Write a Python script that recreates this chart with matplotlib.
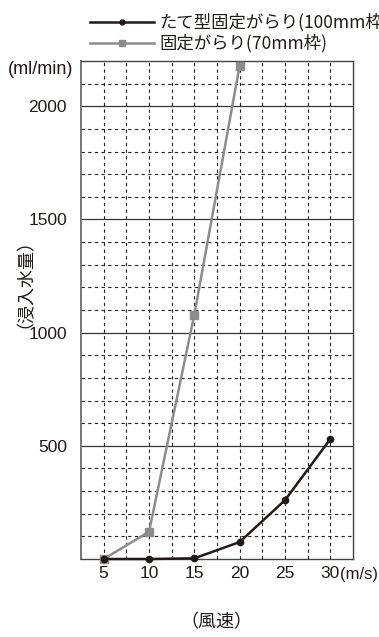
import matplotlib
matplotlib.use("Agg")
import matplotlib.pyplot as plt
from matplotlib.lines import Line2D

plt.rcParams['font.family'] = ['Noto Sans CJK JP', 'DejaVu Sans']

# data
speed = [5, 10, 15, 20, 25, 30]
tate_100 = [0, 0, 3, 75, 260, 530]
kotei_70_x = [5, 10, 15, 20]
kotei_70 = [0, 120, 1080, 2180]
xticks = [5, 10, 15, 20, 25, 30]
yticks = [500, 1000, 1500, 2000]
labels = ['たて型固定がらり(100mm枠)', '固定がらり(70mm枠)']

black = '#231815'
gray = '#8c8c8c'
txt = '#231815'
num_font = ['Liberation Sans Narrow', 'Liberation Sans', 'DejaVu Sans']

fig = plt.figure(figsize=(3.79, 6.37), dpi=100)
ax = fig.add_axes([81/379, 1-559/637, (353-81)/379, (559-61)/637])

ax.set_xlim(2.5, 32.5)
ax.set_ylim(0, 2200)

# grid
for x in [5 + 2.5*i for i in range(11)]:
    ax.axvline(x, color='#222222', lw=0.8, ls=(0, (3, 3)), zorder=1)
for y in range(100, 2200, 100):
    if y % 500 == 0:
        ax.axhline(y, color='#333333', lw=0.9, zorder=1)
    else:
        ax.axhline(y, color='#222222', lw=0.8, ls=(0, (3, 3)), zorder=1)

ax.plot(kotei_70_x, kotei_70, color=gray, lw=1.8, marker='s', ms=5.5, zorder=3, clip_on=False)
ax.plot(speed, tate_100, color=black, lw=1.8, marker='o', ms=4.5, zorder=4, clip_on=False)

for s in ax.spines.values():
    s.set_color('#444444')
    s.set_linewidth(1.0)
ax.spines['left'].set_color('#777777')
ax.spines['left'].set_linewidth(1.4)

ax.set_xticks(xticks)
ax.set_yticks(yticks)
ax.tick_params(length=0, labelsize=12.5, colors=txt, pad=5)
ax.tick_params(axis='y', pad=10)
for lab in ax.get_xticklabels() + ax.get_yticklabels():
    lab.set_family(num_font)

fig.text(73/379, 1-70/637, '(ml/min)', ha='right', va='center', fontsize=13,
         color=txt, family=num_font)
fig.text(340/379, 1-575/637, '(m/s)', ha='left', va='center', fontsize=12,
         color=txt, family=num_font)
fig.text(16/379, 1-274/637, '（浸入水量）', rotation=90, ha='center', va='center',
         fontsize=13, color=txt)
fig.text(216/379, 1-622/637, '（風速）', ha='center', va='center', fontsize=13, color=txt)

handles = [Line2D([], [], color=black, lw=1.8, marker='o', ms=3.5),
           Line2D([], [], color=gray, lw=1.8, marker='s', ms=5)]
fig.legend(handles, labels, loc='upper left', bbox_to_anchor=(78/379, 1-1/637),
           frameon=False, fontsize=12.5, handlelength=3.7, handletextpad=0.3,
           labelspacing=0.15, borderpad=0.2, labelcolor=txt)

fig.savefig('out.png', dpi=100)
